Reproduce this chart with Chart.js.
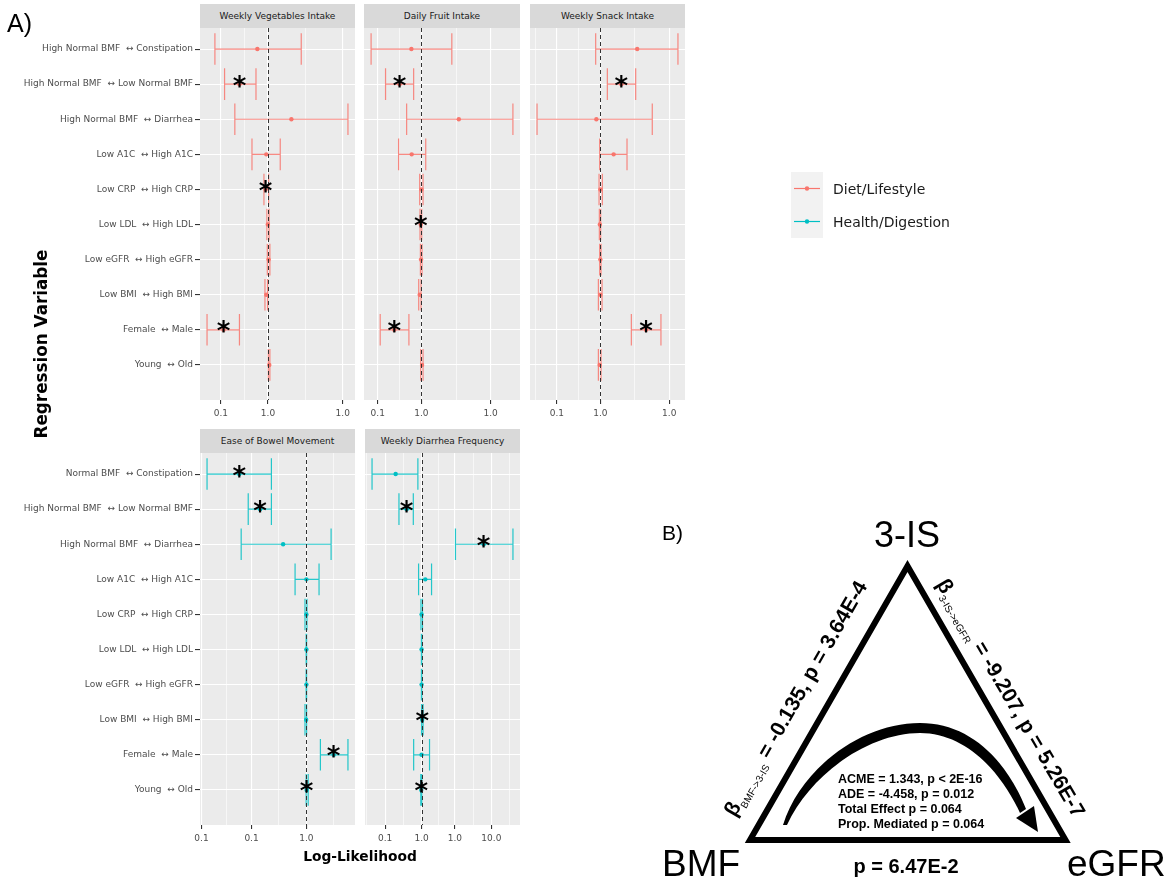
<!DOCTYPE html>
<html>
<head>
<meta charset="utf-8">
<title>Odds ratios by regression variable and mediation model</title>
<script src="https://cdn.jsdelivr.net/npm/chart.js@4.4.1/dist/chart.umd.min.js"></script>
<style>
  html, body { margin: 0; padding: 0; background: #fff; }
  body { width: 1176px; height: 884px; position: relative; overflow: hidden; font-family: "DejaVu Sans", sans-serif; }
  canvas { position: absolute; z-index: 1; }
  .strip { position: absolute; height: 24px; line-height: 24px; background: #d9d9d9; color: #1a1a1a;
           font-size: 9px; text-align: center; white-space: nowrap; z-index: 1; }
  #overlay { position: absolute; left: 0; top: 0; z-index: 2; pointer-events: none; }
</style>
</head>
<body>
<svg id="overlay" width="1176" height="884" xmlns="http://www.w3.org/2000/svg">
  <!-- panel tags -->
  <g font-family="Liberation Sans, Arial, sans-serif" fill="#000">
    <text x="7" y="32" font-size="25">A)</text>
    <text x="662" y="540" font-size="21">B)</text>
  </g>

  <!-- axis titles of the forest plots -->
  <text transform="translate(47,344) rotate(-90)" text-anchor="middle" font-family="DejaVu Sans" font-weight="bold" font-size="16.8">Regression Variable</text>
  <text x="360" y="861" text-anchor="middle" font-family="DejaVu Sans" font-weight="bold" font-size="13.8">Log-Likelihood</text>

  <!-- legend -->
  <rect x="791" y="172" width="32" height="66" fill="#f2f2f2"/>
  <line x1="794" y1="188.5" x2="820" y2="188.5" stroke="#F8766D" stroke-width="1.2"/>
  <circle cx="807" cy="188.5" r="2.2" fill="#F8766D"/>
  <line x1="794" y1="221.5" x2="820" y2="221.5" stroke="#00BFC4" stroke-width="1.2"/>
  <circle cx="807" cy="221.5" r="2.2" fill="#00BFC4"/>
  <g font-family="DejaVu Sans" font-size="14" fill="#1a1a1a">
    <text x="833" y="193.5">Diet/Lifestyle</text>
    <text x="833" y="226.5">Health/Digestion</text>
  </g>

  <!-- mediation triangle -->
  <polygon points="907.5,566 750,840 1065.5,840" fill="none" stroke="#000" stroke-width="6" stroke-linejoin="miter"/>
  <g font-family="Liberation Sans, Arial, sans-serif" fill="#000">
    <text x="907" y="547" text-anchor="middle" font-size="36">3-IS</text>
    <text x="662" y="876" font-size="37">BMF</text>
    <text x="1067" y="876" font-size="37">eGFR</text>
    <text x="906" y="873" text-anchor="middle" font-size="20" font-weight="bold">p = 6.47E-2</text>

    <g transform="translate(795.5,698.5) rotate(-60.2)">
      <text text-anchor="middle" dy="7" font-weight="bold" font-size="21">β<tspan font-size="10" font-weight="normal" dy="5">BMF-&gt;3-IS</tspan><tspan dy="-5"> = -0.135, p = 3.64E-4</tspan></text>
    </g>
    <g transform="translate(1011,698) rotate(59.6)">
      <text text-anchor="middle" dy="7" font-weight="bold" font-size="21">β<tspan font-size="10" font-weight="normal" dy="5">3-IS-&gt;eGFR</tspan><tspan dy="-5"> = -9.207, p = 5.26E-7</tspan></text>
    </g>

    <g font-size="12.5" font-weight="bold">
      <text x="838" y="783">ACME = 1.343, p &lt; 2E-16</text>
      <text x="838" y="798">ADE = -4.458, p = 0.012</text>
      <text x="838" y="813">Total Effect p = 0.064</text>
      <text x="838" y="828">Prop. Mediated p = 0.064</text>
    </g>
  </g>
  <!-- indirect-effect arrow -->
  <path d="M 783 825 C 800 770, 860 723, 920 723 C 968 723, 1005 757, 1026 809 L 1020 813 C 1000 770, 965 733, 920 733 C 868 733, 810 775, 787 825 Z" fill="#000"/>
  <polygon points="1016,818 1034,806 1038,832" fill="#000"/>
</svg>

<script>
// Row labels (top = diet/lifestyle outcomes, bottom = health/digestion outcomes)
const topRowLabels = [
  "High Normal BMF  \u2194 Constipation",
  "High Normal BMF  \u2194 Low Normal BMF",
  "High Normal BMF  \u2194 Diarrhea",
  "Low A1C  \u2194 High A1C",
  "Low CRP  \u2194 High CRP",
  "Low LDL  \u2194 High LDL",
  "Low eGFR  \u2194 High eGFR",
  "Low BMI  \u2194 High BMI",
  "Female  \u2194 Male",
  "Young  \u2194 Old"
];
const bottomRowLabels = [
  "Normal BMF  \u2194 Constipation",
  "High Normal BMF  \u2194 Low Normal BMF",
  "High Normal BMF  \u2194 Diarrhea",
  "Low A1C  \u2194 High A1C",
  "Low CRP  \u2194 High CRP",
  "Low LDL  \u2194 High LDL",
  "Low eGFR  \u2194 High eGFR",
  "Low BMI  \u2194 High BMI",
  "Female  \u2194 Male",
  "Young  \u2194 Old"
];

// Weekly Vegetables Intake
const vegEst  = [0.855, 0.657, 1.41, 0.975, 0.966, 0.997, 1.009, 0.975, 0.520, 1.019];
const vegLow  = [0.458, 0.528, 0.614, 0.790, 0.942, 0.984, 0.990, 0.956, 0.408, 1.004];
const vegHigh = [1.63, 0.838, 3.24, 1.197, 1.009, 1.016, 1.028, 0.994, 0.657, 1.028];
const vegSig  = [0, 1, 0, 0, 1, 0, 0, 0, 1, 0];

// Daily Fruit Intake
const fruitEst  = [0.853, 0.707, 1.81, 0.857, 1.000, 0.989, 0.994, 0.973, 0.650, 1.010];
const fruitLow  = [0.450, 0.566, 0.791, 0.696, 0.973, 0.978, 0.984, 0.958, 0.520, 0.989];
const fruitHigh = [1.62, 0.884, 4.27, 1.071, 1.026, 1.005, 1.010, 0.994, 0.820, 1.026];
const fruitSig  = [0, 1, 0, 0, 0, 1, 0, 0, 1, 0];

// Weekly Snack Intake
const snackEst  = [1.80, 1.398, 0.938, 1.236, 1.000, 0.992, 1.000, 1.000, 2.07, 0.989];
const snackLow  = [0.928, 1.118, 0.364, 0.989, 0.979, 0.984, 0.989, 0.969, 1.64, 0.969];
const snackHigh = [3.45, 1.757, 2.29, 1.53, 1.032, 1.005, 1.011, 1.027, 2.63, 1.011];
const snackSig  = [0, 1, 0, 0, 0, 0, 0, 0, 1, 0];

// Ease of Bowel Movement
const bowelEst  = [0.229, 0.362, 0.600, 1.000, 1.000, 1.000, 1.000, 0.995, 1.82, 1.005];
const bowelLow  = [0.113, 0.279, 0.239, 0.780, 0.970, 0.995, 0.995, 0.970, 1.36, 0.995];
const bowelHigh = [0.464, 0.464, 1.72, 1.32, 1.013, 1.005, 1.005, 1.005, 2.49, 1.040];
const bowelSig  = [1, 1, 0, 0, 0, 0, 0, 0, 1, 1];

// Weekly Diarrhea Frequency
const diarEst  = [0.425, 0.610, 7.76, 1.13, 1.000, 1.000, 1.000, 1.020, 1.000, 0.990];
const diarLow  = [0.195, 0.474, 3.06, 0.906, 0.980, 0.995, 0.995, 1.000, 0.770, 0.975];
const diarHigh = [0.885, 0.761, 20.4, 1.39, 1.030, 1.005, 1.005, 1.050, 1.30, 1.005];
const diarSig  = [0, 1, 1, 0, 0, 0, 0, 1, 0, 1];

// Axis breaks and the labels printed under them
const dietTicks      = [0.5, 1, 3];
const dietTickText   = ["0.1", "1.0", "1.0"];
const bowelTicks     = [0.1, 0.3, 1];
const bowelTickText  = ["0.1", "0.1", "1.0"];
const diarTicks      = [0.3, 1, 3, 10];
const diarTickText   = ["0.1", "1.0", "1.0", "10.0"];

const DIET = "#F8766D";
const HEALTH = "#00BFC4";
const AXIS_H = 24;     // height reserved for the x axis under each panel
const PANEL_H = 372;   // plotting-area height

// x range: data extent on the log axis, widened by 5% on each side
function logLimits(lo, hi) {
  const a = Math.log10(Math.min(...lo));
  const b = Math.log10(Math.max(...hi));
  const pad = (b - a) * 0.05;
  return [Math.pow(10, a - pad), Math.pow(10, b + pad)];
}

// major breaks plus minor grid lines half-way between them (in log space)
function gridTicks(major, text, min, max) {
  const L = major.map(Math.log10);
  const ext = [2 * L[0] - L[1], ...L, 2 * L[L.length - 1] - L[L.length - 2]];
  const minor = [];
  for (let i = 0; i < ext.length - 1; i++) minor.push((ext[i] + ext[i + 1]) / 2);
  const lmin = Math.log10(min), lmax = Math.log10(max);
  return major.map((v, i) => ({ value: v, text: text[i], minor: false }))
    .concat(minor.filter(m => m > lmin && m < lmax).map(m => ({ value: Math.pow(10, m), text: "", minor: true })))
    .sort((p, q) => p.value - q.value);
}

// panel background, error bars, reference line at 1 and significance marks
function forestLayers(p) {
  return {
    id: "forestLayers",
    beforeDraw(chart) {
      const { ctx, chartArea: a } = chart;
      ctx.save();
      ctx.fillStyle = "#ebebeb";
      ctx.fillRect(a.left, a.top, a.right - a.left, a.bottom - a.top);
      ctx.restore();
    },
    beforeDatasetsDraw(chart) {
      const { ctx } = chart, xs = chart.scales.x, ys = chart.scales.y;
      ctx.save();
      ctx.strokeStyle = p.color;
      ctx.globalAlpha = 0.85;
      ctx.lineWidth = 1.2;
      p.low.forEach((l, i) => {
        const yy = ys.getPixelForValue(i);
        const cap = Math.abs(ys.getPixelForValue(i + 0.45) - yy);
        const x0 = xs.getPixelForValue(l), x1 = xs.getPixelForValue(p.high[i]);
        ctx.beginPath();
        ctx.moveTo(x0, yy); ctx.lineTo(x1, yy);
        ctx.moveTo(x0, yy - cap); ctx.lineTo(x0, yy + cap);
        ctx.moveTo(x1, yy - cap); ctx.lineTo(x1, yy + cap);
        ctx.stroke();
      });
      ctx.restore();
    },
    afterDatasetsDraw(chart) {
      const { ctx, chartArea: a } = chart, xs = chart.scales.x, ys = chart.scales.y;
      ctx.save();
      const xr = Math.round(xs.getPixelForValue(1)) + 0.5;
      ctx.strokeStyle = "#333";
      ctx.lineWidth = 1;
      ctx.setLineDash([4, 3]);
      ctx.beginPath(); ctx.moveTo(xr, a.top); ctx.lineTo(xr, a.bottom); ctx.stroke();
      ctx.setLineDash([]);
      ctx.fillStyle = "#000";
      ctx.font = 'bold 26px "DejaVu Sans"';
      ctx.textAlign = "center";
      ctx.textBaseline = "alphabetic";
      const m = ctx.measureText("*");
      const mid = (m.actualBoundingBoxAscent - m.actualBoundingBoxDescent) / 2;
      p.sig.forEach((s, i) => {
        if (!s) return;
        const cx = xs.getPixelForValue(p.est[i]);
        const cy = ys.getPixelForValue(i) - 3;
        ctx.fillText("*", cx, cy + mid);
      });
      ctx.restore();
    }
  };
}

function forestPanel(p) {
  const yWidth = p.rows ? 200 : 0;
  const strip = document.createElement("div");
  strip.className = "strip";
  strip.textContent = p.title;
  strip.style.left = (p.left + yWidth) + "px";
  strip.style.top = (p.top - 24) + "px";
  strip.style.width = p.plotWidth + "px";
  document.body.appendChild(strip);

  const canvas = document.createElement("canvas");
  canvas.width = yWidth + p.plotWidth;
  canvas.height = PANEL_H + AXIS_H;
  canvas.style.left = p.left + "px";
  canvas.style.top = p.top + "px";
  document.body.appendChild(canvas);

  const [xmin, xmax] = logLimits(p.low, p.high);
  const xticks = gridTicks(p.ticks, p.tickText, xmin, xmax);
  const rows = p.rows || bottomRowLabels;

  new Chart(canvas, {
    type: "scatter",
    data: {
      datasets: [{
        data: p.est.map((v, i) => ({ x: v, y: i })),
        pointRadius: 2.2,
        pointHoverRadius: 2.2,
        pointBackgroundColor: p.color,
        pointBorderWidth: 0,
        borderColor: p.color,
        showLine: false
      }]
    },
    options: {
      responsive: false,
      animation: false,
      devicePixelRatio: 1,
      events: [],
      layout: { padding: 0, autoPadding: false },
      plugins: { legend: { display: false }, tooltip: { enabled: false } },
      scales: {
        x: {
          type: "logarithmic",
          min: xmin,
          max: xmax,
          bounds: "data",
          afterBuildTicks(scale) { scale.ticks = xticks.map(t => Object.assign({}, t)); },
          afterFit(scale) { scale.height = AXIS_H; scale.paddingLeft = 0; scale.paddingRight = 0; },
          border: { display: false },
          grid: {
            color: "#ffffff",
            lineWidth: c => (c.tick && c.tick.minor ? 0.6 : 1.1),
            tickColor: c => (c.tick && c.tick.minor ? "rgba(0,0,0,0)" : "#333333"),
            tickLength: 4,
            tickWidth: 1.1
          },
          ticks: {
            autoSkip: false,
            maxRotation: 0,
            minRotation: 0,
            padding: 4,
            color: "#4d4d4d",
            font: { family: "DejaVu Sans", size: 9 },
            callback: (v, i, t) => (t[i] && t[i].text) || ""
          }
        },
        y: {
          type: "linear",
          min: -0.6,
          max: 10,
          reverse: true,
          bounds: "data",
          afterBuildTicks(scale) { scale.ticks = rows.map((_, i) => ({ value: i })); },
          afterFit(scale) { scale.width = yWidth; scale.paddingTop = 0; scale.paddingBottom = 0; },
          border: { display: false },
          grid: {
            color: "#ffffff",
            lineWidth: 1.1,
            drawTicks: !!p.rows,
            tickColor: "#333333",
            tickLength: 5,
            tickWidth: 1.1
          },
          ticks: {
            display: !!p.rows,
            autoSkip: false,
            padding: 2,
            color: "#4d4d4d",
            font: { family: "DejaVu Sans", size: 9 },
            callback: (v, i) => rows[i]
          }
        }
      }
    },
    plugins: [forestLayers(p)]
  });
}

forestPanel({ title: "Weekly Vegetables Intake", left: 0, top: 28, plotWidth: 155, rows: topRowLabels,
  est: vegEst, low: vegLow, high: vegHigh, sig: vegSig, color: DIET, ticks: dietTicks, tickText: dietTickText });
forestPanel({ title: "Daily Fruit Intake", left: 364, top: 28, plotWidth: 156, rows: null,
  est: fruitEst, low: fruitLow, high: fruitHigh, sig: fruitSig, color: DIET, ticks: dietTicks, tickText: dietTickText });
forestPanel({ title: "Weekly Snack Intake", left: 530, top: 28, plotWidth: 155, rows: null,
  est: snackEst, low: snackLow, high: snackHigh, sig: snackSig, color: DIET, ticks: dietTicks, tickText: dietTickText });
forestPanel({ title: "Ease of Bowel Movement", left: 0, top: 453, plotWidth: 155, rows: bottomRowLabels,
  est: bowelEst, low: bowelLow, high: bowelHigh, sig: bowelSig, color: HEALTH, ticks: bowelTicks, tickText: bowelTickText });
forestPanel({ title: "Weekly Diarrhea Frequency", left: 365, top: 453, plotWidth: 155, rows: null,
  est: diarEst, low: diarLow, high: diarHigh, sig: diarSig, color: HEALTH, ticks: diarTicks, tickText: diarTickText });
</script>
</body>
</html>
